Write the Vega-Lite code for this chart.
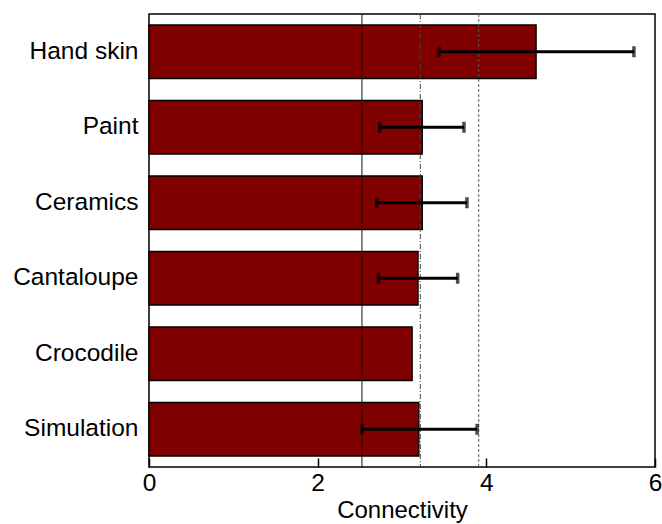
{
  "$schema": "https://vega.github.io/schema/vega-lite/v6.json",
  "width": 506,
  "height": 453,
  "autosize": "none",
  "padding": {"left": 149, "top": 14, "right": 7, "bottom": 57},
  "config": {
    "view": {"stroke": "black", "strokeWidth": 1.5},
    "font": "Liberation Sans"
  },
  "datasets": {
    "bars": [
      {"material": "Hand skin", "value": 4.59, "lo": 3.44, "hi": 5.75},
      {"material": "Paint", "value": 3.24, "lo": 2.735, "hi": 3.735},
      {"material": "Ceramics", "value": 3.24, "lo": 2.70, "hi": 3.77},
      {"material": "Cantaloupe", "value": 3.19, "lo": 2.72, "hi": 3.66},
      {"material": "Crocodile", "value": 3.12, "lo": null, "hi": null},
      {"material": "Simulation", "value": 3.20, "lo": 2.525, "hi": 3.89}
    ],
    "lines": [
      {"x": 2.525, "kind": "solid"},
      {"x": 3.217, "kind": "dashdot"},
      {"x": 3.91, "kind": "dotted"}
    ]
  },
  "layer": [
    {
      "data": {"name": "bars"},
      "mark": {"type": "bar", "color": "#800000", "stroke": "black", "strokeWidth": 1.4},
      "encoding": {
        "y": {
          "field": "material", "type": "nominal", "sort": null,
          "scale": {"paddingInner": 0.29, "paddingOuter": 0.145},
          "axis": {"title": null, "ticks": false, "domain": false, "labelFontSize": 24.5, "labelColor": "black", "labelPadding": 11, "labelFont": "Liberation Sans"}
        },
        "x": {
          "field": "value", "type": "quantitative",
          "scale": {"domain": [0, 6], "nice": false},
          "axis": {"title": "Connectivity", "titleFontSize": 24, "titleFontWeight": "normal", "titleColor": "black", "titlePadding": 4, "labelFontSize": 24.5, "labelColor": "black", "values": [0, 2, 4, 6], "format": "d", "grid": false, "domain": false, "tickSize": -9, "tickColor": "black", "tickWidth": 1.5, "labelPadding": 13, "labelFlush": false, "labelFont": "Liberation Sans", "titleFont": "Liberation Sans"}
        }
      }
    },
    {
      "data": {"name": "lines"},
      "mark": {"type": "rule", "strokeWidth": 1},
      "encoding": {
        "x": {"field": "x", "type": "quantitative"},
        "strokeDash": {"field": "kind", "type": "nominal", "scale": {"domain": ["solid", "dashdot", "dotted"], "range": [[1, 0], [5, 2, 1, 2], [3, 2]]}, "legend": null},
        "color": {"field": "kind", "type": "nominal", "scale": {"domain": ["solid", "dashdot", "dotted"], "range": ["#111111", "#444444", "#555555"]}, "legend": null}
      }
    },
    {
      "data": {"name": "bars"},
      "transform": [{"filter": "datum.lo != null"}],
      "mark": {"type": "rule", "color": "black", "strokeWidth": 3},
      "encoding": {
        "y": {"field": "material", "type": "nominal", "sort": null},
        "x": {"field": "lo", "type": "quantitative"},
        "x2": {"field": "hi"}
      }
    },
    {
      "data": {"name": "bars"},
      "transform": [{"filter": "datum.lo != null"}],
      "mark": {"type": "tick", "color": "black", "thickness": 3.5, "size": 11, "orient": "vertical"},
      "encoding": {
        "y": {"field": "material", "type": "nominal", "sort": null},
        "x": {"field": "lo", "type": "quantitative"}
      }
    },
    {
      "data": {"name": "bars"},
      "transform": [{"filter": "datum.lo != null"}],
      "mark": {"type": "tick", "color": "black", "thickness": 3.5, "size": 11, "orient": "vertical"},
      "encoding": {
        "y": {"field": "material", "type": "nominal", "sort": null},
        "x": {"field": "hi", "type": "quantitative"}
      }
    }
  ]
}
